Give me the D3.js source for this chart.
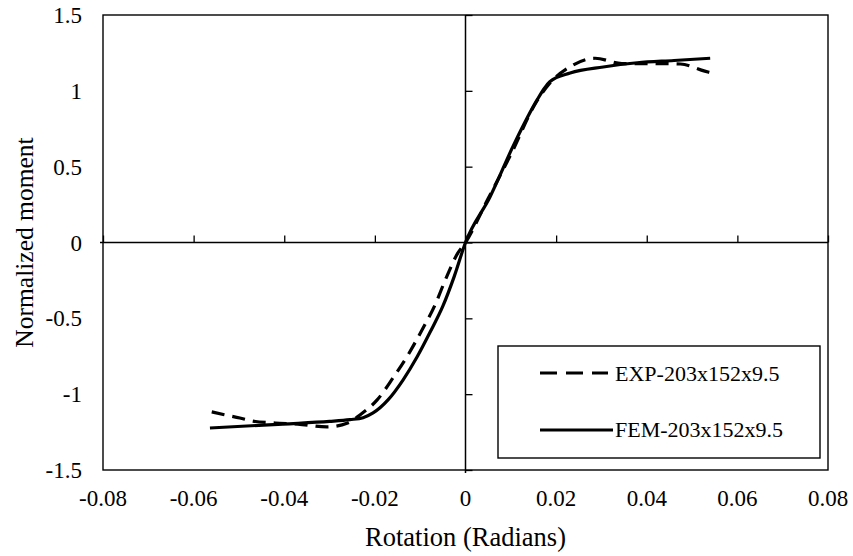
<!DOCTYPE html>
<html>
<head>
<meta charset="utf-8">
<script src="https://cdn.jsdelivr.net/npm/d3@7"></script>
<style>
  html, body { margin: 0; padding: 0; background: #fff; }
  svg { display: block; }
  text { font-family: "Liberation Serif", "Times New Roman", serif; fill: #000; }
</style>
</head>
<body>
<svg id="chart" width="853" height="556"></svg>
<script>
// ---- data ----
const xTicks = [-0.08, -0.06, -0.04, -0.02, 0, 0.02, 0.04, 0.06, 0.08];
const xTickLabels = ["-0.08", "-0.06", "-0.04", "-0.02", "0", "0.02", "0.04", "0.06", "0.08"];
const yTicks = [-1.5, -1, -0.5, 0, 0.5, 1, 1.5];
const yTickLabels = ["-1.5", "-1", "-0.5", "0", "0.5", "1", "1.5"];

const expRotation = [-0.056, -0.053, -0.0498, -0.047, -0.042, -0.037, -0.0306, -0.026, -0.0233, -0.0195, -0.016, -0.0127, -0.0096, -0.0067, -0.0045, -0.0017, 0, 0.005, 0.010, 0.0155, 0.0186, 0.0226, 0.0286, 0.0345, 0.041, 0.0474, 0.0528, 0.054];
const expMoment   = [-1.117, -1.137, -1.157, -1.177, -1.19, -1.197, -1.216, -1.19, -1.137, -1.038, -0.893, -0.742, -0.577, -0.41, -0.25, -0.07, 0, 0.29, 0.58, 0.92, 1.05, 1.15, 1.215, 1.18, 1.18, 1.177, 1.13, 1.12];

const femRotation = [-0.0564, -0.0403, -0.030, -0.0255, -0.0226, -0.0204, -0.0171, -0.0138, -0.0107, -0.0078, -0.0050, -0.0025, 0, 0.0054, 0.0109, 0.0158, 0.0175, 0.0186, 0.0231, 0.0304, 0.0379, 0.046, 0.054];
const femMoment   = [-1.223, -1.197, -1.18, -1.168, -1.155, -1.124, -1.038, -0.907, -0.755, -0.59, -0.42, -0.225, 0, 0.30, 0.66, 0.94, 1.02, 1.06, 1.117, 1.157, 1.185, 1.20, 1.215];

const seriesNames = ["EXP-203x152x9.5", "FEM-203x152x9.5"];

// ---- layout ----
const W = 853, H = 556;
const margin = { left: 103, right: 25, top: 15, bottom: 86 };
const svg = d3.select("#chart");

const x = d3.scaleLinear().domain([-0.08, 0.08]).range([margin.left, W - margin.right]);
const y = d3.scaleLinear().domain([-1.5, 1.5]).range([H - margin.bottom, margin.top]);

// frame
svg.append("rect")
  .attr("x", x(-0.08)).attr("y", y(1.5))
  .attr("width", x(0.08) - x(-0.08)).attr("height", y(-1.5) - y(1.5))
  .attr("fill", "none").attr("stroke", "#000").attr("stroke-width", 1.4);

// zero axes with ticks
const xAxis = d3.axisTop(x).tickValues(xTicks).tickSize(7).tickFormat("");
const gx = svg.append("g").attr("transform", `translate(0,${y(0)})`).call(xAxis);
gx.select(".domain").attr("stroke-width", 1.5).attr("d", `M${x(-0.08) - 3},0H${x(0.08)}`);
gx.selectAll(".tick line").attr("stroke-width", 1.3);

const yAxis = d3.axisRight(y).tickValues(yTicks).tickSize(7).tickFormat("");
const gy = svg.append("g").attr("transform", `translate(${x(0)},0)`).call(yAxis);
gy.select(".domain").attr("stroke-width", 1.5).attr("d", `M0,${y(1.5)}V${y(-1.5) + 3}`);
gy.selectAll(".tick line").attr("stroke-width", 1.3);

// tick labels
svg.append("g").selectAll("text").data(xTicks).join("text")
  .attr("x", d => x(d)).attr("y", 506)
  .attr("text-anchor", "middle").attr("font-size", 23)
  .text((d, i) => xTickLabels[i]);

svg.append("g").selectAll("text").data(yTicks).join("text")
  .attr("x", 82).attr("y", d => y(d)).attr("dy", "0.35em")
  .attr("text-anchor", "end").attr("font-size", 23)
  .text((d, i) => yTickLabels[i]);

// axis titles
svg.append("text").attr("x", x(0)).attr("y", 546)
  .attr("text-anchor", "middle").attr("font-size", 26.5)
  .text("Rotation (Radians)");
svg.append("text")
  .attr("transform", `translate(33,${y(0)}) rotate(-90)`)
  .attr("text-anchor", "middle").attr("font-size", 25.5)
  .text("Normalized moment");

// curves
const line = d3.line().x(d => x(d[0])).y(d => y(d[1])).curve(d3.curveMonotoneX);
const femData = femRotation.map((v, i) => [v, femMoment[i]]);
const expData = expRotation.map((v, i) => [v, expMoment[i]]);

svg.append("path").datum(femData).attr("d", line)
  .attr("fill", "none").attr("stroke", "#000").attr("stroke-width", 3.2);
svg.append("path").datum(expData).attr("d", line)
  .attr("fill", "none").attr("stroke", "#000").attr("stroke-width", 3.2)
  .attr("stroke-dasharray", "13,8");

// legend
const leg = svg.append("g");
leg.append("rect").attr("x", 498).attr("y", 346).attr("width", 322).attr("height", 112)
  .attr("fill", "#fff").attr("stroke", "#000").attr("stroke-width", 1.4);
leg.append("line").attr("x1", 540).attr("x2", 608).attr("y1", 373).attr("y2", 373)
  .attr("stroke", "#000").attr("stroke-width", 3.2).attr("stroke-dasharray", "17,9");
leg.append("line").attr("x1", 540).attr("x2", 613).attr("y1", 430).attr("y2", 430)
  .attr("stroke", "#000").attr("stroke-width", 3.2);
leg.append("text").attr("x", 615).attr("y", 381).attr("font-size", 22).text(seriesNames[0]);
leg.append("text").attr("x", 615).attr("y", 437).attr("font-size", 22).text(seriesNames[1]);
</script>
</body>
</html>
